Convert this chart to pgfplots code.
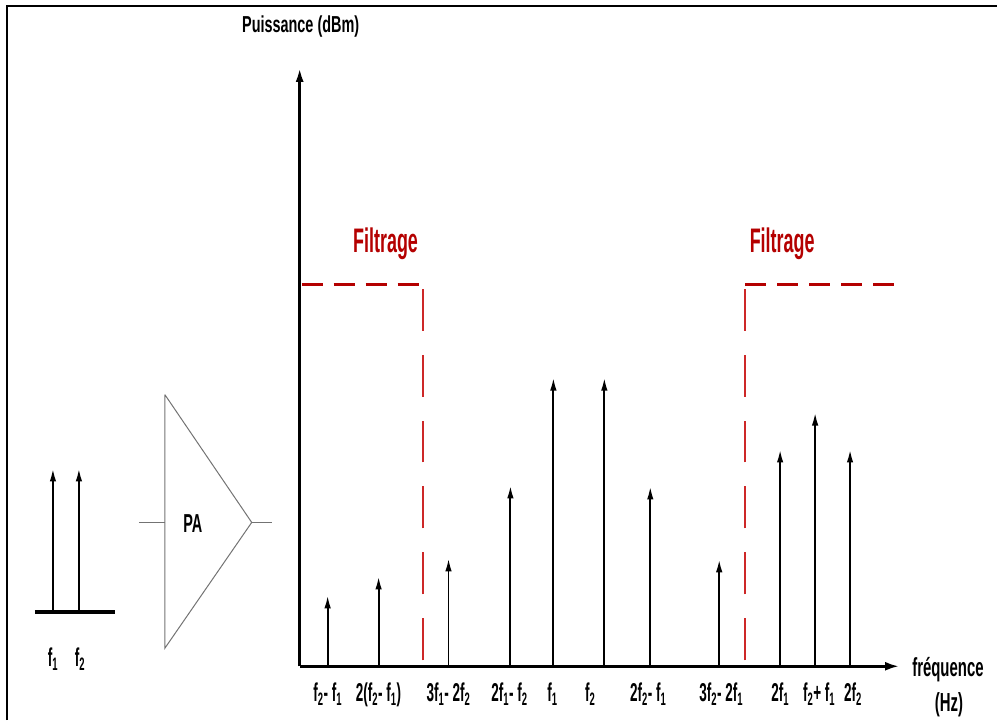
\documentclass[border=0pt]{standalone}
\usepackage{fontspec}
\setmainfont{Liberation Sans}
\usepackage{graphicx}
\usepackage{pgfplots}
\pgfplotsset{compat=1.18}
\usetikzlibrary{arrows.meta}
\definecolor{filt}{RGB}{180,0,0}
\definecolor{filtv}{RGB}{205,40,40}
\newcommand\lab[1]{\scalebox{0.97}[1.85]{\fontsize{14}{14}\selectfont\bfseries #1}}
\begin{document}
\begin{tikzpicture}
\begin{axis}[
  scale only axis, width=600bp, height=599bp,
  xmin=300, xmax=900, ymin=54, ymax=653,
  axis lines=left,
  axis line style={line width=2.6bp},
  x axis line style={-{Latex[length=14bp,width=9bp]}},
  y axis line style={-{Latex[length=14bp,width=8bp]}},
  xtick={328,379,449,510,553,591,649,722,781,820,854},
  xticklabels={{\lab{f\textsubscript{2}- f\textsubscript{1}}},
               {\lab{2(f\textsubscript{2}- f\textsubscript{1})}},
               {\lab{3f\textsubscript{1}- 2f\textsubscript{2}}},
               {\lab{2f\textsubscript{1}- f\textsubscript{2}}},
               {\lab{f\textsubscript{1}}},
               {\lab{f\textsubscript{2}}},
               {\lab{2f\textsubscript{2}- f\textsubscript{1}}},
               {\lab{3f\textsubscript{2}- 2f\textsubscript{1}}},
               {\lab{2f\textsubscript{1}}},
               {\lab{f\textsubscript{2}+ f\textsubscript{1}}},
               {\lab{2f\textsubscript{2}}}},
  ytick=\empty,
  major tick length=0pt,
  xticklabel style={anchor=base, yshift=-35bp, inner sep=0pt},
  clip=false,
]
% bounding box of the whole picture
\path (axis cs:0,0) rectangle (axis cs:998,721);
% frame
\addplot[line width=2.2bp] coordinates {(6.8,0) (6.8,715) (998,715)};

% output spectrum
\addplot[quiver={u=0, v=\thisrow{h}}, line width=1.9bp, -{Latex[length=13bp,width=6.5bp]}] table {
x   y   h
328 54  71
379 54  90
449 54  108
511 54  181
554 54  289
605 54  289
651 54  180
720 54  107
781 54  217
816 54  254
851 54  217
};

% filters
\addplot[filt, line width=2.8bp, dash pattern=on 21bp off 11bp] coordinates {(302,436) (420,436)};
\addplot[filtv, line width=1.8bp, dash pattern=on 42bp off 24bp] coordinates {(423.5,60) (423.5,436)};
\addplot[filtv, line width=1.8bp, dash pattern=on 42bp off 24bp] coordinates {(745.5,60) (745.5,436)};
\addplot[filt, line width=2.8bp, dash pattern=on 21bp off 11bp] coordinates {(746,436) (895,436)};
\node[filt, anchor=base] at (axis cs:386,468) {\scalebox{1}[1.9]{\fontsize{18}{18}\selectfont\bfseries Filtrage}};
\node[filt, anchor=base] at (axis cs:783,468) {\scalebox{1}[1.9]{\fontsize{18}{18}\selectfont\bfseries Filtrage}};

% axis titles
\node[anchor=base] at (axis cs:301,688) {\scalebox{1}[1.6]{\fontsize{14.5}{14.5}\selectfont\bfseries Puissance (dBm)}};
\node[anchor=base] at (axis cs:949,44) {\scalebox{1}[1.75]{\fontsize{15}{15}\selectfont\bfseries fréquence}};
\node[anchor=base] at (axis cs:950,9) {\scalebox{1}[1.75]{\fontsize{15}{15}\selectfont\bfseries (Hz)}};

% input spectrum
\addplot[line width=4bp] coordinates {(35,108) (115,108)};
\addplot[quiver={u=0, v=\thisrow{h}}, line width=1.9bp, -{Latex[length=13bp,width=6.5bp]}] table {
x  y   h
53 108 144
79 108 144
};
\node[anchor=base] at (axis cs:53,54) {\lab{f\textsubscript{1}}};
\node[anchor=base] at (axis cs:80,54) {\lab{f\textsubscript{2}}};

% PA amplifier
\addplot[black!55, line width=1bp] coordinates {(165,326) (165,72) (252,198) (165,326)};
\addplot[black!55, line width=1bp] coordinates {(139,198) (165,198)};
\addplot[black!55, line width=1bp] coordinates {(252,198) (272,198)};
\node[anchor=base] at (axis cs:193,188) {\scalebox{1}[1.8]{\fontsize{14.5}{14.5}\selectfont\bfseries PA}};
\end{axis}
\end{tikzpicture}
\end{document}
